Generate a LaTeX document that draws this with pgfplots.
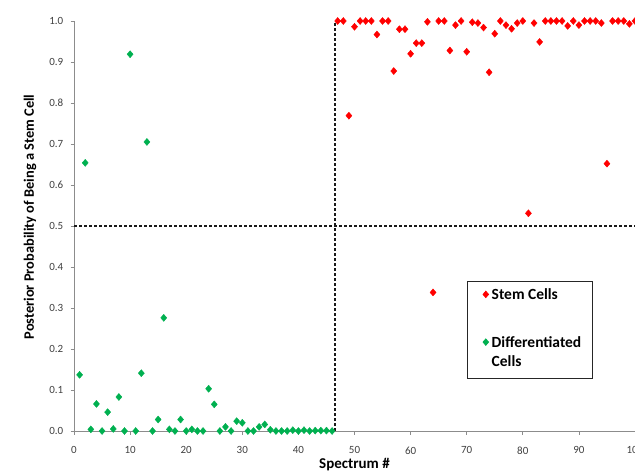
\documentclass[border=0pt]{standalone}
\usepackage{fontspec}
\setmainfont{Carlito}
\usepackage{pgfplots}
\pgfplotsset{compat=1.18}
\definecolor{stemred}{HTML}{FF0000}
\definecolor{diffgreen}{HTML}{00B050}
\definecolor{axgray}{HTML}{8C8C8C}
\definecolor{ticktext}{HTML}{404040}
\pgfplotsset{mylegimg/.style={legend image code/.code={\path (-16.3pt,5pt) (3.5pt,5pt); \draw[mark repeat=1,##1,mark size=3.2pt] plot coordinates {(0pt,5pt)};}}}
\begin{document}
\begin{tikzpicture}
\begin{axis}[
  at={(74pt,41pt)}, anchor=south west,
  scale only axis, width=561pt, height=410pt,
  xmin=0, xmax=100, ymin=0, ymax=1,
  clip=false,
  axis x line*=bottom, axis y line*=left,
  axis line style={axgray, line width=0.8pt},
  every tick/.style={axgray, line width=0.8pt},
  tick align=outside, major tick length=3.5pt,
  xtick={0,10,...,100}, ytick={0,0.1,...,1.0},
  /pgf/number format/assume math mode=true,
  yticklabel={\pgfmathprintnumber[fixed,fixed zerofill,precision=1]{\tick}},
  tick label style={font=\fontsize{11}{13}\selectfont, text=ticktext},
  yticklabel style={anchor=east, inner sep=0pt, xshift=-7pt},
  xticklabel style={anchor=north, inner sep=0pt, yshift=-12pt},
  xlabel={Spectrum \#},
  ylabel={Posterior Probability of Being a Stem Cell},
  xlabel style={font=\fontsize{15}{18}\selectfont\bfseries, at={(axis description cs:0.5,-0.0915)}, anchor=base},
  ylabel style={font=\fontsize{14.4}{17}\selectfont\bfseries, at={(axis description cs:-0.0784,0.522)}, anchor=center},
  legend style={
    at={(axis description cs:0.700,0.3666)}, anchor=north west,
    draw=black!85, line width=0.8pt, inner xsep=2pt, inner ysep=2pt,
    font=\fontsize{15.5}{18}\selectfont\bfseries,
    column sep=2pt, row sep=0pt,
    nodes={inner sep=0pt, text depth=, text height=},
    cells={anchor=base west},
  },
]
\addplot[forget plot, black!90, line width=1.4pt, dash pattern=on 3pt off 2pt] coordinates {(0,0.5) (100,0.5)};
\addplot[forget plot, black!90, line width=1.4pt, dash pattern=on 3pt off 2pt] coordinates {(46.5,0) (46.5,1)};
\addplot[only marks, mark=diamond*, color=stemred, mark size=3.5pt, mark options={xscale=1.15}, mylegimg]
coordinates {
(47,1.0) (48,1.0) (49,0.769) (50,0.986) (51,1.0) (52,1.0) (53,1.0) (54,0.967)
(55,1.0) (56,1.0) (57,0.878) (58,0.98) (59,0.98) (60,0.92) (61,0.946) (62,0.946)
(63,0.998) (64,0.338) (65,1.0) (66,1.0) (67,0.928) (68,0.99) (69,1.0) (70,0.925)
(71,0.997) (72,0.995) (73,0.984) (74,0.875) (75,0.969) (76,1.0) (77,0.99) (78,0.981)
(79,0.995) (80,1.0) (81,0.531) (82,0.995) (83,0.949) (84,1.0) (85,1.0) (86,1.0)
(87,1.0) (88,0.988) (89,1.0) (90,0.99) (91,1.0) (92,1.0) (93,1.0) (94,0.995)
(95,0.652) (96,1.0) (97,1.0) (98,1.0) (99,0.993) (100,1.0)
};
\addlegendentry{Stem Cells\rule[-36.7pt]{0pt}{53pt}}
\addplot[only marks, mark=diamond*, color=diffgreen, mark size=3.5pt, mark options={xscale=1.15}, mylegimg]
coordinates {
(1,0.137) (2,0.654) (3,0.004) (4,0.066) (5,0.0) (6,0.046) (7,0.005) (8,0.083)
(9,0.0) (10,0.919) (11,0.0) (12,0.141) (13,0.705) (14,0.0) (15,0.028) (16,0.276)
(17,0.004) (18,0.0) (19,0.028) (20,0.0) (21,0.004) (22,0.0) (23,0.0) (24,0.103)
(25,0.065) (26,0.0) (27,0.01) (28,0.0) (29,0.024) (30,0.02) (31,0.0) (32,0.0)
(33,0.01) (34,0.016) (35,0.003) (36,0.0) (37,0.0) (38,0.0) (39,0.002) (40,0.0)
(41,0.002) (42,0.0) (43,0.001) (44,0.001) (45,0.001) (46,0.0)
};
\addlegendentry{Differentiated\hspace*{9pt}\rule[-8pt]{0pt}{19pt}}
\addlegendimage{empty legend}
\addlegendentry{Cells\rule[-10pt]{0pt}{21pt}}
\end{axis}
\pgfresetboundingbox
\path[use as bounding box] (0pt,0pt) rectangle (635pt,472pt);
\end{tikzpicture}
\end{document}
